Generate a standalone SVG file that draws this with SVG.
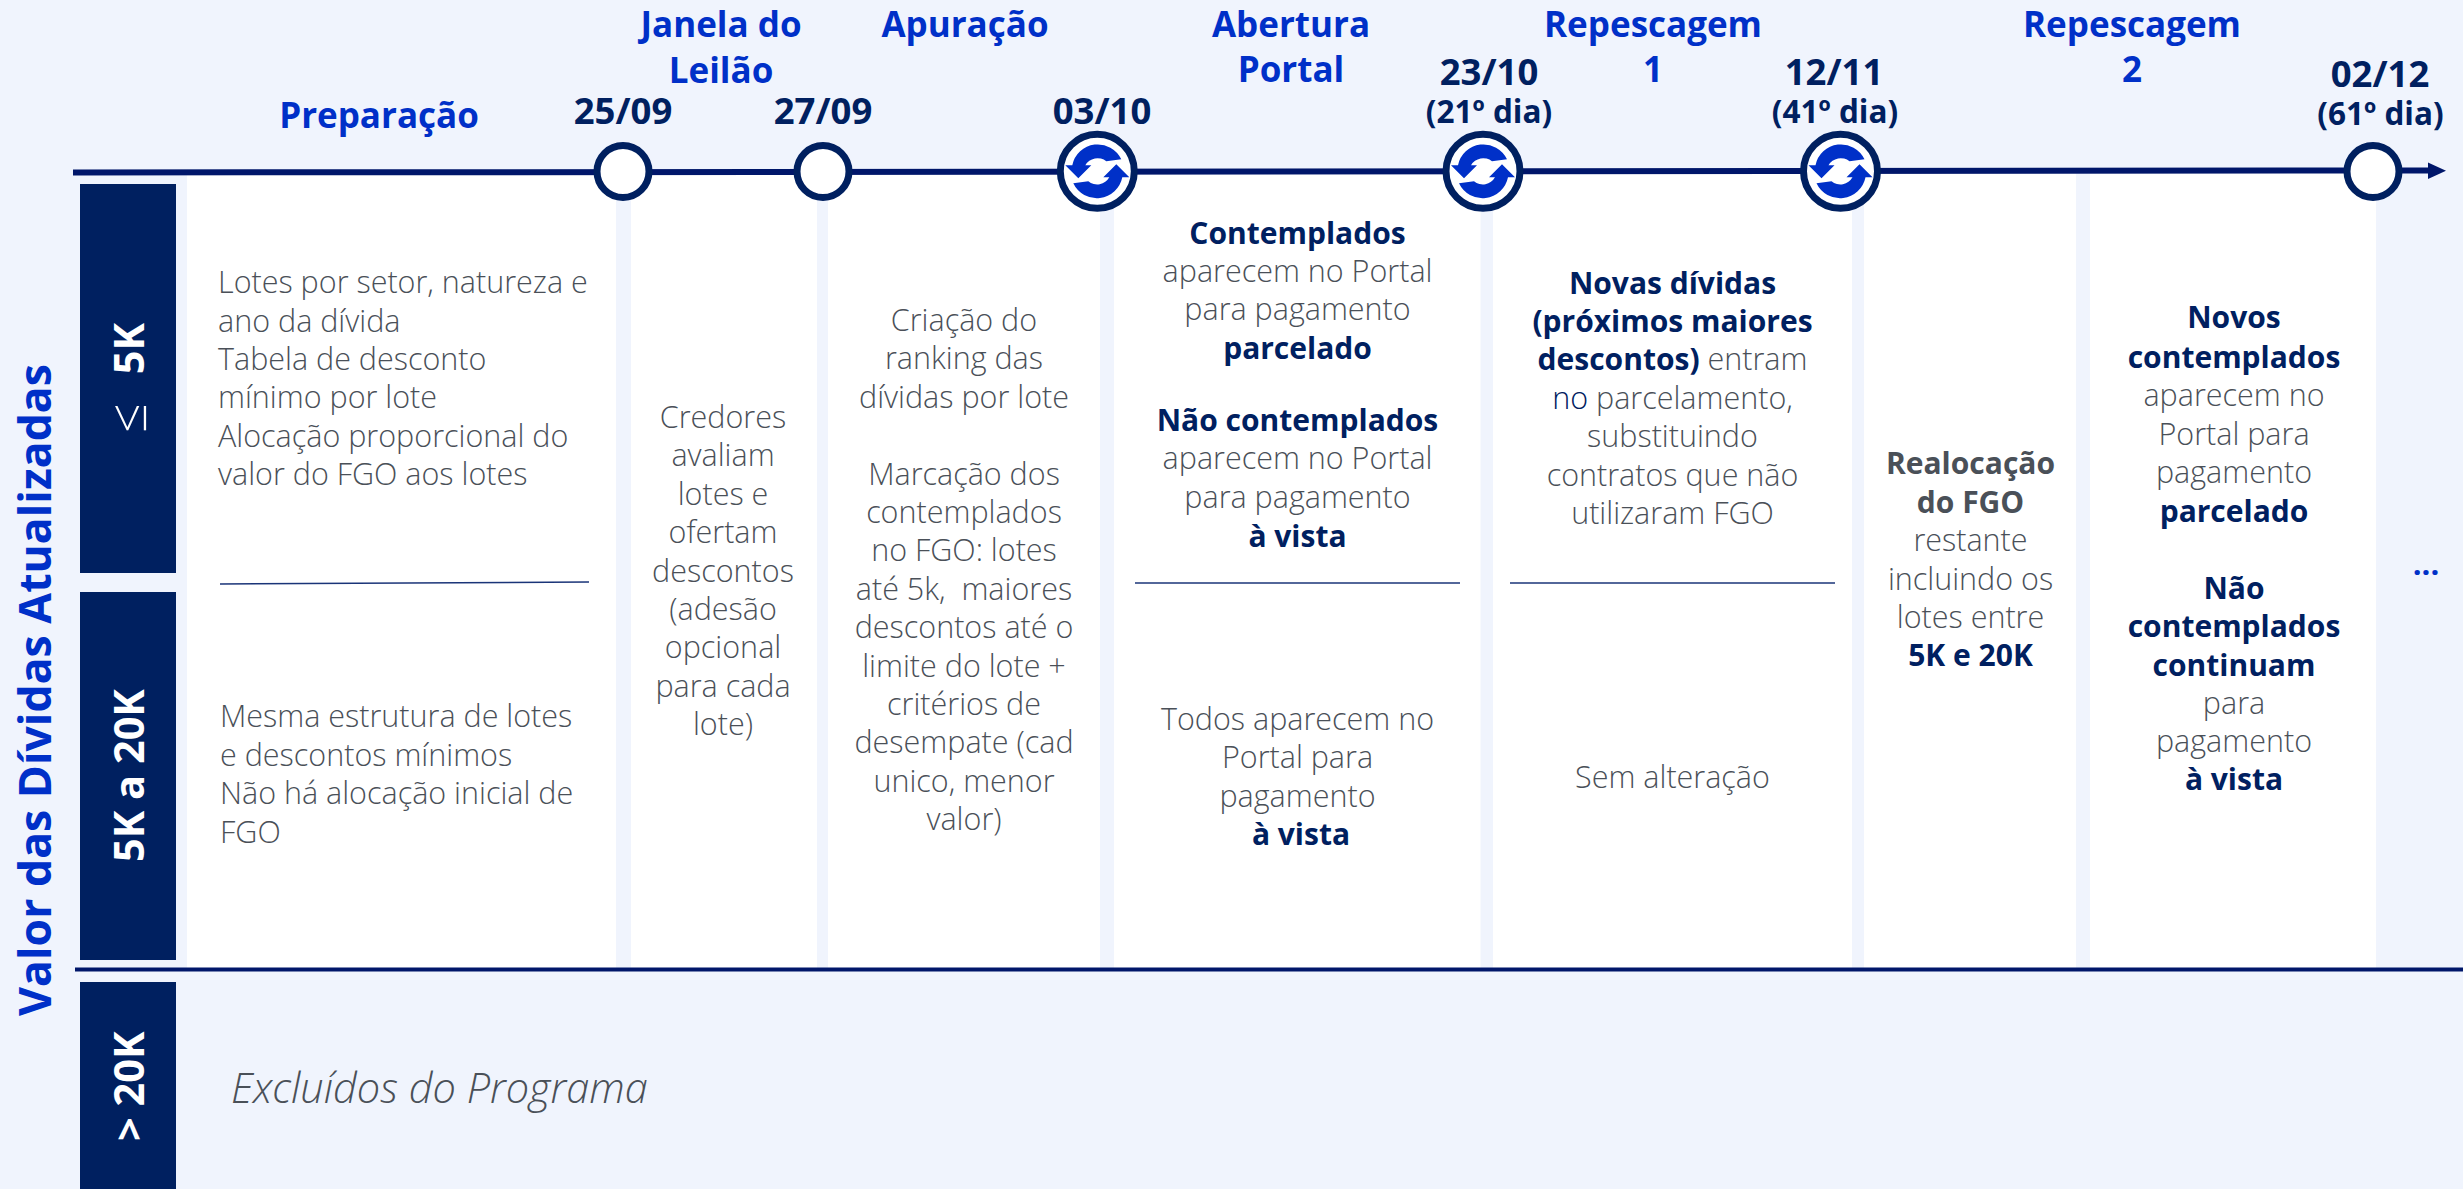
<svg xmlns="http://www.w3.org/2000/svg" width="2463" height="1189" viewBox="0 0 2463 1189">
<style>
text{font-family:"Open Sans","Noto Sans","Liberation Sans",sans-serif}
.bg{fill:#f0f4fd}.col{fill:#fff}.band{fill:#002060}
.m{text-anchor:middle}
.b{font-size:30.5px;font-weight:300;fill:#4a5058}
.s{font-size:30px;font-weight:700;fill:#002060}
.g{font-size:30px;font-weight:700;fill:#4a5058}
.t{font-size:35px;font-weight:700;fill:#0030c8}
.d{font-size:36.5px;font-weight:700;fill:#002060}
.dd{font-size:31.5px;font-weight:700;fill:#002060}
.r{font-size:41.5px;font-weight:700;fill:#fff}
.rl{font-weight:300;font-size:52px}
.div{stroke:#1a3478;stroke-width:1.6;fill:none}
.axis{stroke:#00166a;fill:none}
.ms{fill:#fff;stroke:#002060;stroke-width:7}
.ic{fill:#0030c8}
</style>
<defs>
<g id="sync">
<circle class="ms" r="37"/>
<path class="ic" d="M-32,-6H-25A26,26 0 0 1 24,-12L9,-10A14,14 0 0 0 -12,-6H-6L-19,7Z"/>
<path class="ic" d="M32,6H25A26,26 0 0 1 -24,12L-9,10A14,14 0 0 0 12,6H6L19,-7Z"/>
</g>
</defs>
<rect class="bg" width="2463" height="1189"/>
<g id="columns">
<rect class="col" x="187" y="172" width="429" height="796"/>
<rect class="col" x="631" y="172" width="186" height="796"/>
<rect class="col" x="828" y="172" width="272" height="796"/>
<rect class="col" x="1114" y="172" width="366.500" height="796"/>
<rect class="col" x="1493" y="172" width="359" height="796"/>
<rect class="col" x="1864" y="172" width="212" height="796"/>
<rect class="col" x="2090" y="172" width="286" height="796"/>
</g>
<g id="connectors">
<path class="axis" stroke-width="6" d="M73,172.500L2432,170.500"/>
<path fill="#00166a" d="M2428,162.500L2446,170.700L2428,179Z"/>
<path class="axis" stroke-width="4" stroke="#002060" d="M75,969.500H2463"/>
</g>
<g id="band-5k">
<rect class="band" x="80" y="184" width="96" height="389"/>
<text class="r" transform="translate(146,433) rotate(-90)"><tspan class="rl">≤</tspan><tspan dx="29" dy="-2">5K</tspan></text>
</g>
<g id="band-5k-20k">
<rect class="band" x="80" y="592" width="96" height="368"/>
<text class="r" transform="translate(144,862) rotate(-90)">5K a 20K</text>
</g>
<g id="band-20k">
<rect class="band" x="80" y="982" width="96" height="207"/>
<text class="r" transform="translate(144,1141) rotate(-90)">&gt; 20K</text>
</g>
<g id="axis-title">
<text transform="translate(51,1016) rotate(-90)" font-size="44.600" font-weight="700" fill="#0030c8">Valor das Dívidas Atualizadas</text>
</g>
<g id="step-preparacao">
<text class="t m" x="379" y="128">Preparação</text>
</g>
<g id="step-janela">
<text class="t m" x="721" y="37">Janela do</text>
<text class="t m" x="721" y="83">Leilão</text>
</g>
<g id="step-apuracao"><text class="t m" x="965" y="37">Apuração</text></g>
<g id="step-abertura">
<text class="t m" x="1291" y="37">Abertura</text>
<text class="t m" x="1291" y="82">Portal</text>
</g>
<g id="step-repescagem1">
<text class="t m" x="1653" y="37">Repescagem</text>
<text class="t m" x="1653" y="82">1</text>
</g>
<g id="step-repescagem2">
<text class="t m" x="2132" y="37">Repescagem</text>
<text class="t m" x="2132" y="82">2</text>
</g>
<g id="date-2509">
<text class="d m" x="623" y="124">25/09</text>
<circle class="ms" cx="623" cy="171.500" r="26"/>
</g>
<g id="date-2709">
<text class="d m" x="823" y="124">27/09</text>
<circle class="ms" cx="823" cy="171.500" r="26"/>
</g>
<g id="date-0310">
<text class="d m" x="1102" y="124">03/10</text>
<use href="#sync" x="1097.300" y="171.300"/>
</g>
<g id="date-2310">
<text class="d m" x="1489" y="85">23/10</text>
<text class="dd m" x="1489" y="123">(21º dia)</text>
<use href="#sync" x="1483" y="171.300"/>
</g>
<g id="date-1211">
<text class="d m" x="1834" y="85">12/11</text>
<text class="dd m" x="1835" y="123">(41º dia)</text>
<use href="#sync" x="1840.500" y="171.300"/>
</g>
<g id="date-0212">
<text class="d m" x="2380" y="87">02/12</text>
<text class="dd m" x="2380.500" y="125">(61º dia)</text>
<circle class="ms" cx="2373" cy="171.500" r="26"/>
</g>
<g id="col-preparacao">
<text class="b" x="218" y="293">Lotes por setor, natureza e</text>
<text class="b" x="218" y="331.500">ano da dívida</text>
<text class="b" x="218" y="370">Tabela de desconto</text>
<text class="b" x="218" y="408">mínimo por lote</text>
<text class="b" x="218" y="447">Alocação proporcional do</text>
<text class="b" x="218" y="485">valor do FGO aos lotes</text>
<path class="div" d="M220,584L589,582"/>
<text class="b" x="220" y="727">Mesma estrutura de lotes</text>
<text class="b" x="220" y="766">e descontos mínimos</text>
<text class="b" x="220" y="804">Não há alocação inicial de</text>
<text class="b" x="220" y="843">FGO</text>
</g>
<g id="col-janela">
<text class="b m" x="723" y="428">Credores</text>
<text class="b m" x="723" y="466">avaliam</text>
<text class="b m" x="723" y="504.500">lotes e</text>
<text class="b m" x="723" y="543">ofertam</text>
<text class="b m" x="723" y="582">descontos</text>
<text class="b m" x="723" y="620">(adesão</text>
<text class="b m" x="723" y="658">opcional</text>
<text class="b m" x="723" y="697">para cada</text>
<text class="b m" x="723" y="735">lote)</text>
</g>
<g id="col-apuracao">
<text class="b m" x="964" y="331">Criação do</text>
<text class="b m" x="964" y="369">ranking das</text>
<text class="b m" x="964" y="408">dívidas por lote</text>
<text class="b m" x="964" y="485">Marcação dos</text>
<text class="b m" x="964" y="522.500">contemplados</text>
<text class="b m" x="964" y="561">no FGO: lotes</text>
<text class="b m" x="964" y="600" xml:space="preserve">até 5k,  maiores</text>
<text class="b m" x="964" y="638">descontos até o</text>
<text class="b m" x="964" y="677">limite do lote +</text>
<text class="b m" x="964" y="715">critérios de</text>
<text class="b m" x="964" y="753">desempate (cad</text>
<text class="b m" x="964" y="792">unico, menor</text>
<text class="b m" x="964" y="830">valor)</text>
</g>
<g id="col-abertura">
<text class="s m" x="1297.500" y="243.500">Contemplados</text>
<text class="b m" x="1297.500" y="281.500">aparecem no Portal</text>
<text class="b m" x="1297.500" y="320">para pagamento</text>
<text class="s m" x="1297.500" y="359">parcelado</text>
<text class="s m" x="1297.500" y="431">Não contemplados</text>
<text class="b m" x="1297.500" y="469">aparecem no Portal</text>
<text class="b m" x="1297.500" y="508">para pagamento</text>
<text class="s m" x="1297.500" y="547">à vista</text>
<path class="div" d="M1135,583H1460"/>
<text class="b m" x="1297.500" y="730">Todos aparecem no</text>
<text class="b m" x="1297.500" y="768">Portal para</text>
<text class="b m" x="1297.500" y="807">pagamento</text>
<text class="s m" x="1301" y="845">à vista</text>
</g>
<g id="col-repescagem1">
<text class="s m" x="1672.500" y="293.500">Novas dívidas</text>
<text class="s m" x="1672.500" y="332">(próximos maiores</text>
<text class="b m" x="1672.500" y="370"><tspan class="s">descontos)</tspan> entram</text>
<text class="b m" x="1672.500" y="409"><tspan fill="#002060">no</tspan> parcelamento,</text>
<text class="b m" x="1672.500" y="447">substituindo</text>
<text class="b m" x="1672.500" y="485.500">contratos que não</text>
<text class="b m" x="1672.500" y="523.500">utilizaram FGO</text>
<path class="div" d="M1510,583H1835"/>
<text class="b m" x="1672.500" y="788">Sem alteração</text>
</g>
<g id="col-realocacao">
<text class="g m" x="1970.500" y="474">Realocação</text>
<text class="g m" x="1970.500" y="513">do FGO</text>
<text class="b m" x="1970.500" y="551">restante</text>
<text class="b m" x="1970.500" y="590">incluindo os</text>
<text class="b m" x="1970.500" y="628">lotes entre</text>
<text class="s m" x="1970.500" y="666">5K e 20K</text>
</g>
<g id="col-repescagem2">
<text class="s m" x="2234" y="328">Novos</text>
<text class="s m" x="2234" y="368">contemplados</text>
<text class="b m" x="2234" y="406">aparecem no</text>
<text class="b m" x="2234" y="445">Portal para</text>
<text class="b m" x="2234" y="483">pagamento</text>
<text class="s m" x="2234" y="522">parcelado</text>
<text class="s m" x="2234" y="599">Não</text>
<text class="s m" x="2234" y="637">contemplados</text>
<text class="s m" x="2234" y="676">continuam</text>
<text class="b m" x="2234" y="714">para</text>
<text class="b m" x="2234" y="752">pagamento</text>
<text class="s m" x="2234" y="790">à vista</text>
</g>
<g id="excluidos">
<text x="231" y="1103" font-size="41.500" font-style="italic" font-weight="300" fill="#4a5058">Excluídos do Programa</text>
</g>
<g id="more">
<text class="m" x="2426" y="575" font-size="31" font-weight="700" fill="#0030c8">...</text>
</g>
</svg>
